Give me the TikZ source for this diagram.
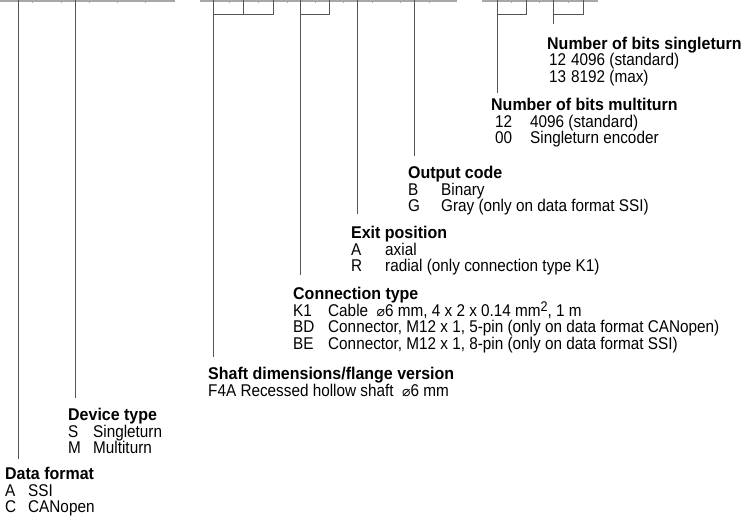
\documentclass[tikz,border=0pt]{standalone}
\usepackage{fontspec}
\setmainfont{Liberation Sans}[FakeStretch=0.9]
\newfontfamily\hdfont{Liberation Sans}[FakeStretch=0.94]
\newfontfamily\symfont{DejaVu Sans}
\definecolor{rulegray}{HTML}{A8A8A8}
\definecolor{leadgray}{HTML}{555555}
\newcommand\cd[2]{\makebox[#1pt][l]{#2}}
\begin{document}
\begin{tikzpicture}[x=1pt,y=-1pt,
  toprule/.style={draw=rulegray, line width=1.6pt},
  tick/.style={draw=rulegray, line width=1pt},
  lead/.style={draw=leadgray, line width=0.9pt},
  hd/.style={anchor=base west, inner sep=0pt, font=\hdfont\bfseries\fontsize{17}{17}\selectfont},
  it/.style={anchor=base west, inner sep=0pt, font=\fontsize{17}{17}\selectfont}]
\useasboundingbox (0,0) rectangle (752,527);
% top rule segments
\coordinate (r1a) at (0,0.8);   \coordinate (r1b) at (175,0.8);
\coordinate (r2a) at (200,0.8); \coordinate (r2b) at (457,0.8);
\coordinate (r3a) at (482,0.8); \coordinate (r3b) at (598,0.8);
\draw[toprule] (r1a) -- (r1b);
\draw[toprule] (r2a) -- (r2b);
\draw[toprule] (r3a) -- (r3b);
\foreach \x in {32,61,89,117,145,229,258,287,315,343,372,400,429,511,539,568}
  \draw[tick] (\x,0) -- (\x,3);

% titles and items
\node[hd] (st) at (547,49) {Number of bits singleturn};
\node[it] (st1) at (549,66) {\cd{22}{12}4096 (standard)};
\node[it] (st2) at (549,82.6) {\cd{22}{13}8192 (max)};

\node[hd] (mt) at (491,110) {Number of bits multiturn};
\node[it] (mt1) at (495,127) {\cd{35}{12}4096 (standard)};
\node[it] (mt2) at (495,143.6) {\cd{35}{00}Singleturn encoder};

\node[hd] (oc) at (408,178) {Output code};
\node[it] (oc1) at (408,195) {\cd{33}{B}Binary};
\node[it] (oc2) at (408,211.6) {\cd{33}{G}Gray (only on data format SSI)};

\node[hd] (ep) at (351,238) {Exit position};
\node[it] (ep1) at (351,255) {\cd{34}{A}axial};
\node[it] (ep2) at (351,271.6) {\cd{34}{R}radial (only connection type K1)};

\node[hd] (ct) at (293,299) {Connection type};
\node[it] (ct1) at (293,316) {\cd{35}{K1}Cable\ \ {\symfont\fontsize{14}{17}\selectfont ⌀}6 mm, 4 x 2 x 0.14 mm\raisebox{5pt}{\fontsize{14}{14}\selectfont 2}, 1 m};
\node[it] (ct2) at (293,332.6) {\cd{35}{BD}Connector, M12 x 1, 5-pin (only on data format CANopen)};
\node[it] (ct3) at (293,349.2) {\cd{35}{BE}Connector, M12 x 1, 8-pin (only on data format SSI)};

\node[hd] (sd) at (208,379) {Shaft dimensions/flange version};
\node[it] (sd1) at (208,396) {F4A Recessed hollow shaft\ \ {\symfont\fontsize{14}{17}\selectfont ⌀}6 mm};

\node[hd] (dt) at (68,420) {Device type};
\node[it] (dt1) at (68,437) {\cd{25}{S}Singleturn};
\node[it] (dt2) at (68,453.6) {\cd{25}{M}Multiturn};

\node[hd] (df) at (5,479) {Data format};
\node[it] (df1) at (5,496) {\cd{23}{A}SSI};
\node[it] (df2) at (5,512.6) {\cd{23}{C}CANopen};

% leaders
\coordinate (a1) at (18,0);  \coordinate (b1) at (18,459);
\draw[lead] (a1) -- (b1);
\coordinate (a2) at (75,0);  \coordinate (b2) at (75,398);
\draw[lead] (a2) -- (b2);
% shaft bracket
\coordinate (a3) at (213,0); \coordinate (m3) at (243,0); \coordinate (c3) at (273,0);
\coordinate (b3) at (213,357);
\draw[lead] (a3) -- (b3);
\draw[lead] (m3) -- (243,14.5);
\draw[lead] (c3) -- (273,14.5) -- (213,14.5);
% connection bracket
\coordinate (a4) at (300,0); \coordinate (c4) at (329,0); \coordinate (b4) at (300,275);
\draw[lead] (a4) -- (b4);
\draw[lead] (c4) -- (329,14.5) -- (300,14.5);
% exit
\coordinate (a5) at (357,0); \coordinate (b5) at (357,214);
\draw[lead] (a5) -- (b5);
% output code
\coordinate (a6) at (414,0); \coordinate (b6) at (414,156);
\draw[lead] (a6) -- (b6);
% multiturn bracket
\coordinate (a7) at (497,0); \coordinate (c7) at (526,0); \coordinate (b7) at (497,93);
\draw[lead] (a7) -- (b7);
\draw[lead] (c7) -- (526,14.5) -- (497,14.5);
% singleturn bracket
\coordinate (a8) at (553,0); \coordinate (c8) at (583,0); \coordinate (b8) at (553,24);
\draw[lead] (a8) -- (b8);
\draw[lead] (c8) -- (583,14.5) -- (553,14.5);
\end{tikzpicture}
\end{document}
